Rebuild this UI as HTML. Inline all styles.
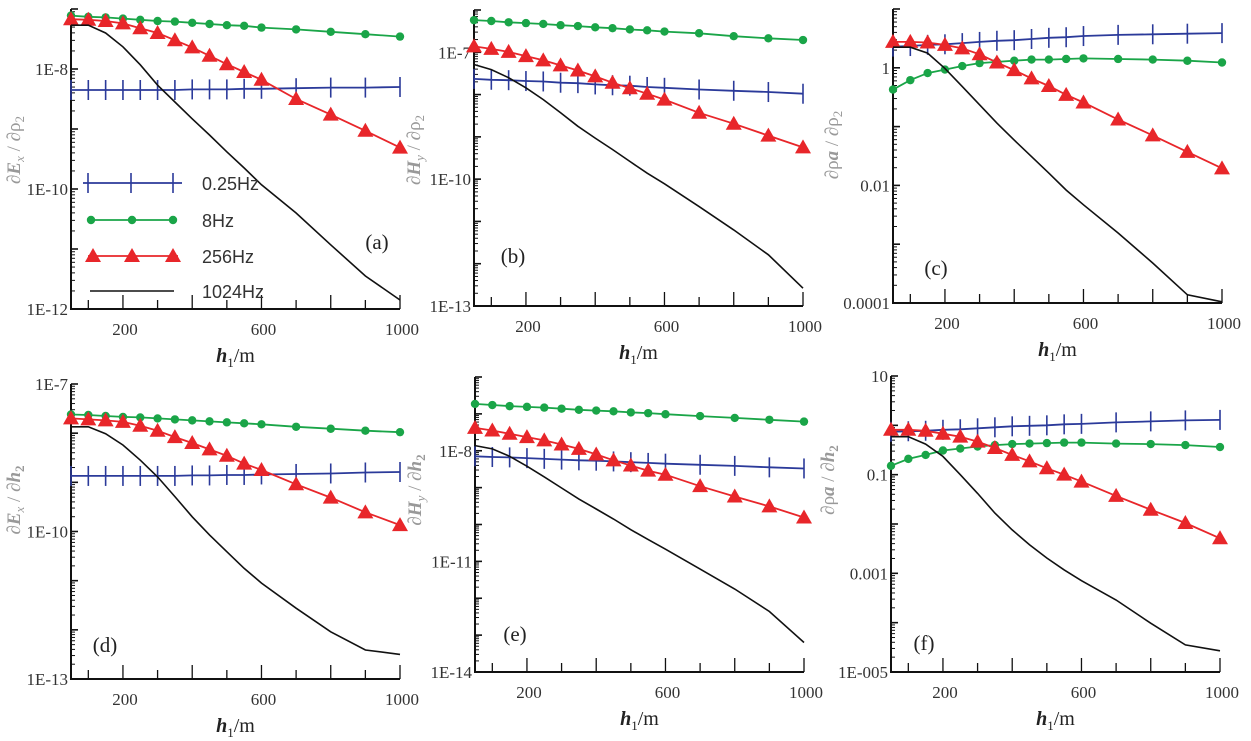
<!DOCTYPE html>
<html><head><meta charset="utf-8">
<style>
html,body{margin:0;padding:0;background:#fff;}
svg{display:block;}
.tk{font-family:"Liberation Serif",serif;font-size:17px;fill:#333;}
.lg{font-family:"Liberation Sans",sans-serif;font-size:18px;fill:#333;}
.pl{font-family:"Liberation Serif",serif;font-size:21px;fill:#222;}
.yt{font-family:"Liberation Serif",serif;font-size:19px;fill:#999;}
.xt{font-family:"Liberation Serif",serif;font-size:20px;fill:#222;}
</style></head>
<body>
<svg id="fig" width="1251" height="741" viewBox="0 0 1251 741" xmlns="http://www.w3.org/2000/svg"></svg>
<script>
// x positions (h1 in m)
const hValues = [50,100,150,200,250,300,350,400,450,500,550,600,700,800,900,1000];
const xTickLabels = [200,600,1000];
// series values as log10 exponents
const aBlue  = [-8.35,-8.35,-8.35,-8.35,-8.35,-8.35,-8.35,-8.34,-8.34,-8.34,-8.33,-8.33,-8.32,-8.31,-8.31,-8.30];
const aGreen = [-7.11,-7.13,-7.14,-7.16,-7.18,-7.20,-7.21,-7.23,-7.25,-7.27,-7.28,-7.31,-7.34,-7.38,-7.42,-7.46];
const aRed   = [-7.17,-7.18,-7.20,-7.24,-7.32,-7.40,-7.52,-7.64,-7.78,-7.92,-8.05,-8.18,-8.50,-8.76,-9.03,-9.31];
const aBlack = [-7.27,-7.27,-7.40,-7.63,-7.93,-8.27,-8.55,-8.83,-9.10,-9.38,-9.65,-9.93,-10.40,-10.93,-11.45,-11.85];
const bBlue  = [-7.63,-7.65,-7.66,-7.68,-7.69,-7.72,-7.73,-7.76,-7.78,-7.79,-7.82,-7.84,-7.88,-7.91,-7.94,-7.98];
const bGreen = [-6.24,-6.26,-6.29,-6.31,-6.33,-6.36,-6.38,-6.41,-6.43,-6.46,-6.48,-6.51,-6.55,-6.62,-6.67,-6.71];
const bRed   = [-6.86,-6.92,-6.99,-7.09,-7.19,-7.31,-7.43,-7.57,-7.72,-7.85,-7.98,-8.12,-8.43,-8.69,-8.97,-9.25];
const bBlack = [-7.29,-7.41,-7.60,-7.84,-8.12,-8.43,-8.75,-9.03,-9.30,-9.58,-9.86,-10.11,-10.65,-11.20,-11.79,-12.58];
const cBlue  = [0.36,0.37,0.39,0.40,0.42,0.44,0.46,0.47,0.49,0.51,0.52,0.54,0.56,0.57,0.58,0.59];
const cGreen = [-0.37,-0.21,-0.09,-0.03,0.03,0.08,0.10,0.12,0.14,0.14,0.15,0.16,0.15,0.14,0.12,0.09];
const cRed   = [0.44,0.44,0.43,0.39,0.33,0.23,0.09,-0.04,-0.18,-0.31,-0.46,-0.59,-0.88,-1.15,-1.43,-1.71];
const cBlack = [0.35,0.35,0.25,-0.01,-0.32,-0.63,-0.94,-1.23,-1.51,-1.79,-2.08,-2.33,-2.81,-3.32,-3.86,-3.98];
const dBlue  = [-8.87,-8.87,-8.87,-8.87,-8.87,-8.87,-8.87,-8.86,-8.86,-8.85,-8.85,-8.84,-8.83,-8.82,-8.80,-8.79];
const dGreen = [-7.62,-7.63,-7.65,-7.67,-7.68,-7.70,-7.72,-7.74,-7.76,-7.78,-7.80,-7.82,-7.87,-7.91,-7.95,-7.98];
const dRed   = [-7.70,-7.72,-7.74,-7.77,-7.85,-7.95,-8.08,-8.20,-8.33,-8.46,-8.62,-8.75,-9.04,-9.31,-9.61,-9.87];
const dBlack = [-7.87,-7.87,-8.01,-8.24,-8.55,-8.89,-9.29,-9.70,-10.07,-10.41,-10.75,-11.05,-11.56,-12.04,-12.41,-12.50];
const eBlue  = [-8.15,-8.17,-8.18,-8.20,-8.22,-8.24,-8.26,-8.27,-8.29,-8.31,-8.33,-8.35,-8.38,-8.41,-8.45,-8.48];
const eGreen = [-6.73,-6.76,-6.79,-6.81,-6.83,-6.86,-6.89,-6.91,-6.93,-6.96,-6.98,-7.01,-7.06,-7.11,-7.16,-7.21];
const eRed   = [-7.38,-7.45,-7.54,-7.63,-7.72,-7.83,-7.95,-8.10,-8.26,-8.40,-8.54,-8.65,-8.96,-9.24,-9.51,-9.81];
const eBlack = [-7.86,-7.95,-8.15,-8.42,-8.71,-9.01,-9.31,-9.58,-9.85,-10.14,-10.41,-10.67,-11.21,-11.75,-12.36,-13.20];
const fBlue  = [-0.13,-0.12,-0.11,-0.09,-0.08,-0.06,-0.04,-0.02,-0.01,0.00,0.02,0.03,0.06,0.08,0.10,0.11];
const fGreen = [-0.82,-0.68,-0.60,-0.51,-0.47,-0.43,-0.40,-0.38,-0.37,-0.36,-0.35,-0.35,-0.37,-0.38,-0.40,-0.44];
const fRed   = [-0.09,-0.09,-0.11,-0.17,-0.23,-0.33,-0.46,-0.60,-0.73,-0.87,-1.00,-1.14,-1.43,-1.71,-1.98,-2.29];
const fBlack = [-0.23,-0.23,-0.38,-0.63,-1.00,-1.38,-1.78,-2.12,-2.42,-2.69,-2.93,-3.15,-3.54,-4.01,-4.45,-4.57];
const aYLabels = [[-8,'1E-8'],[-10,'1E-10'],[-12,'1E-12']];
const bYLabels = [[-7,'1E-7'],[-10,'1E-10'],[-13,'1E-13']];
const cYLabels = [[0,'1'],[-2,'0.01'],[-4,'0.0001']];
const dYLabels = [[-7,'1E-7'],[-10,'1E-10'],[-13,'1E-13']];
const eYLabels = [[-8,'1E-8'],[-11,'1E-11'],[-14,'1E-14']];
const fYLabels = [[1,'10'],[-1,'0.1'],[-3,'0.001'],[-5,'1E-005']];

const NS='http://www.w3.org/2000/svg';
const svg=document.getElementById('fig');
function mk(tag,attrs,parent){const e=document.createElementNS(NS,tag);for(const k in attrs)e.setAttribute(k,attrs[k]);(parent||svg).appendChild(e);return e;}

const panels=[
 {id:'a',x0:71,x1:400,yb:309,yt:9,lmin:-12,lmax:-7,labels:aYLabels,s:[aBlue,aGreen,aRed,aBlack],letter:[377,249],yTitle:[20,150],yKind:'a'},
 {id:'b',x0:474,x1:803,yb:306,yt:10,lmin:-13,lmax:-6,labels:bYLabels,s:[bBlue,bGreen,bRed,bBlack],letter:[513,263],yTitle:[420,150],yKind:'b'},
 {id:'c',x0:893,x1:1222,yb:303,yt:9,lmin:-4,lmax:1,labels:cYLabels,s:[cBlue,cGreen,cRed,cBlack],letter:[936,275],yTitle:[838,145],yKind:'c'},
 {id:'d',x0:71,x1:400,yb:679,yt:384,lmin:-13,lmax:-7,labels:dYLabels,s:[dBlue,dGreen,dRed,dBlack],letter:[105,652],yTitle:[20,500],yKind:'d'},
 {id:'e',x0:475,x1:804,yb:672,yt:377,lmin:-14,lmax:-6,labels:eYLabels,s:[eBlue,eGreen,eRed,eBlack],letter:[515,641],yTitle:[421,490],yKind:'e'},
 {id:'f',x0:891,x1:1220,yb:672,yt:376,lmin:-5,lmax:1,labels:fYLabels,s:[fBlue,fGreen,fRed,fBlack],letter:[924,650],yTitle:[834,480],yKind:'f'}
];
const colors=['#2b3a9a','#1aa548','#e8262a','#111'];
const sNames=['series-0.25hz','series-8hz','series-256hz','series-1024hz'];
const yTitles={a:['∂','E','x',' / ∂ρ','2',false],b:['∂','H','y',' / ∂ρ','2',false],c:['∂ρ','a','',' / ∂ρ','2',false],d:['∂','E','x',' / ∂','h','2'],e:['∂','H','y',' / ∂','h','2'],f:['∂ρ','a','',' / ∂','h','2']};

function drawMarker(g,k,x,y,name){
  let m;
  if(k===0){m=mk('line',{x1:x,y1:y-10,x2:x,y2:y+10,stroke:colors[0],'stroke-width':1.6},g);}
  else if(k===1){m=mk('circle',{cx:x,cy:y,r:4.2,fill:colors[1]},g);}
  else if(k===2){m=mk('polygon',{points:`${x},${y-8} ${x-8},${y+6} ${x+8},${y+6}`,fill:colors[2]},g);}
  if(m){}
}

panels.forEach(p=>{
  const g=mk('g',{});
  
  
  const X=v=>p.x0+(v-50)/(950)*(p.x1-p.x0);
  const Y=l=>p.yb-(l-p.lmin)/(p.lmax-p.lmin)*(p.yb-p.yt);
  const ax=mk('path',{d:`M${p.x0},${p.yt} V${p.yb} H${p.x1}`,fill:'none',stroke:'#111','stroke-width':2},g);
  
  
  for(let v=100;v<=1000;v+=100){
    const len=(v%200===0)?14:9;
    mk('line',{x1:X(v),y1:p.yb,x2:X(v),y2:p.yb-len,stroke:'#111','stroke-width':1.3},g);
  }
  xTickLabels.forEach(v=>{
    const t=mk('text',{x:X(v)+2,y:p.yb+26,'text-anchor':'middle',class:'tk'},g);
    t.textContent=v;
    
    
  });
  for(let d=p.lmin;d<p.lmax+0.001;d++){
    mk('line',{x1:p.x0,y1:Y(d),x2:p.x0+7,y2:Y(d),stroke:'#111','stroke-width':1.6},g);
    if(d<p.lmax) for(let m=2;m<10;m++){
      const l=d+Math.log10(m); if(l>p.lmax) break;
      mk('line',{x1:p.x0,y1:Y(l),x2:p.x0+4,y2:Y(l),stroke:'#111','stroke-width':1},g);
    }
  }
  p.labels.forEach(([l,txt])=>{
    const t=mk('text',{x:p.x0-3,y:Y(l)+6,'text-anchor':'end',class:'tk'},g);
    t.textContent=txt;
    
    
  });
  const xt=mk('text',{x:(p.x0+p.x1)/2,y:p.yb+53,'text-anchor':'middle',class:'xt'},g);
  xt.innerHTML='<tspan font-weight="bold" font-style="italic">h</tspan><tspan font-size="13" dy="5">1</tspan><tspan dy="-5">/m</tspan>';
  
  
  const yt=yTitles[p.yKind];
  const ytt=mk('text',{x:0,y:0,'text-anchor':'middle',class:'yt',transform:`translate(${p.yTitle[0]},${p.yTitle[1]}) rotate(-90)`},g);
  let html=`<tspan>${yt[0]}</tspan><tspan font-weight="bold" font-style="italic">${yt[1]}</tspan>`;
  if(yt[2]) html+=`<tspan font-size="13" dy="4" font-style="italic">${yt[2]}</tspan><tspan dy="-4">${yt[3]}</tspan>`; else html+=`<tspan>${yt[3]}</tspan>`;
  if(yt[5]) html+=`<tspan font-weight="bold" font-style="italic">${yt[4]}</tspan><tspan font-size="13" dy="4" font-weight="bold">${yt[5]}</tspan>`;
  else html+=`<tspan font-size="13" dy="4">${yt[4]}</tspan>`;
  ytt.innerHTML=html;
  
  
  [1,0,2,3].forEach(k=>{
    const data=p.s[k];
    const pts=data.map((l,i)=>`${X(hValues[i]).toFixed(1)},${Y(l).toFixed(1)}`).join(' ');
    const sg=mk('g',{},g);
    
    
    mk('polyline',{points:pts,fill:'none',stroke:colors[k],'stroke-width':k===3?1.6:1.8},sg);
    if(k<3) data.forEach((l,i)=>drawMarker(sg,k,X(hValues[i]),Y(l),'marker'));
  });
  const lt=mk('text',{x:p.letter[0],y:p.letter[1],'text-anchor':'middle',class:'pl'},g);
  lt.textContent='('+p.id+')';
  
  
});

const leg=mk('g',{});


const legItems=[['0.25Hz',183,83,182],['8Hz',220,91,173],['256Hz',256,88,178],['1024Hz',291,90,174]];
legItems.forEach(([txt,y,xa,xb],k)=>{
  const e=mk('g',{},leg);
  
  
  mk('line',{x1:xa,y1:y,x2:xb,y2:y,stroke:colors[k],'stroke-width':k===3?1.6:1.8},e);
  if(k<3){[ [88,131,173],[91,132,173],[93,132,173] ][k].forEach(x=>drawMarker(e,k,x,y,'legend-marker'));}
  const t=mk('text',{x:202,y:y+7,class:'lg'},e);
  t.textContent=txt;
});
</script>
</body></html>
